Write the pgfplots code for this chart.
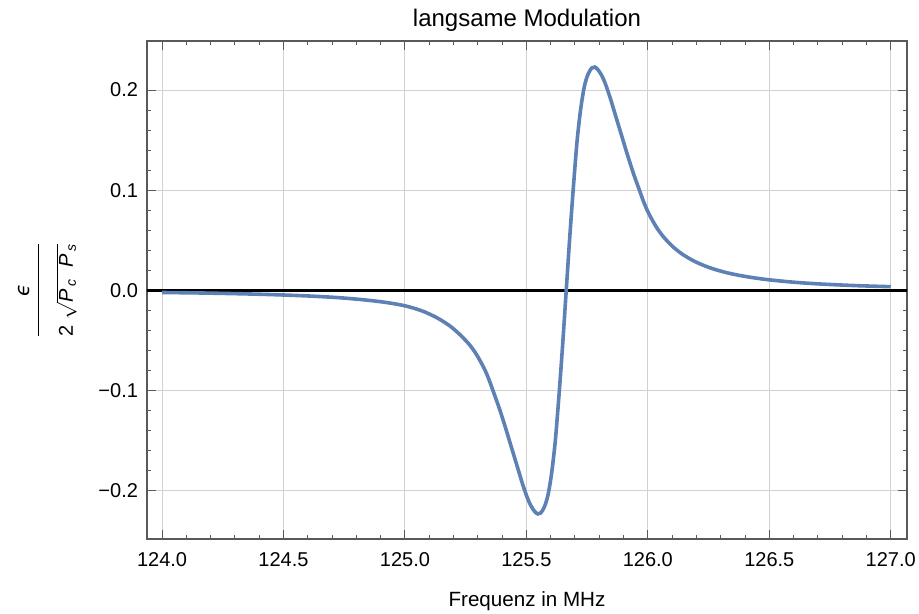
\documentclass[border=0pt]{standalone}
\usepackage{amsmath}
\usepackage{fontspec}
\setmainfont{Liberation Sans}
\newfontfamily\dejavu{DejaVu Sans}
\usepackage{pgfplots}
\pgfplotsset{compat=1.18}
\definecolor{mblue}{rgb}{0.368,0.507,0.710}
\definecolor{framec}{rgb}{0.35,0.35,0.35}
\begin{document}
\begin{tikzpicture}
\begin{axis}[
  at={(0,0)}, anchor=south west,
  scale only axis, width=380pt, height=249pt,
  xmin=123.938, xmax=127.067, ymin=-0.248, ymax=0.249,
  xtick={124,124.5,125,125.5,126,126.5,127},
  xticklabels={124.0,124.5,125.0,125.5,126.0,126.5,127.0},
  ytick={-0.2,-0.1,0,0.1,0.2},
  yticklabels={−0.2,−0.1,0.0,0.1,0.2},
  minor x tick num=4, minor y tick num=4,
  xtick pos=both, ytick pos=both,
  xticklabel pos=lower, yticklabel pos=left,
  tick align=inside,
  major tick length=4.35pt, minor tick length=2.2pt,
  every tick/.style={framec, line width=0.5pt},
  axis line style={framec, line width=0.8pt},
  grid=major,
  major grid style={black!18, line width=0.5pt},
  xticklabel style={anchor=base, yshift=-14pt},
  yticklabel style={anchor=east, xshift=-1pt},
  every axis title/.style={at={(axis description cs:0.5,1)}, anchor=base, yshift=7pt, font=\fontsize{12}{14}\selectfont},
  title={langsame Modulation},
  every axis x label/.style={at={(axis description cs:0.5,0)}, anchor=base, yshift=-33.8pt, font=\fontsize{10.3}{12}\selectfont},
  xlabel={Frequenz in MHz},
  every axis y label/.style={at={(axis description cs:0,0.5)}, xshift=-51.9pt, rotate=90, anchor=base},
  ylabel={$\displaystyle\frac{\text{\dejavu\itshape ϵ}}{\rule{0pt}{16pt}\text{2}\;\sqrt{\textit{P}_{\,\textit{c}}\;\;\textit{P}_{\,\textit{s}}}}$},
]
\addplot[black, line width=1.1pt] coordinates {(123.9,0) (127.1,0)};
\addplot[mblue, line width=1.8pt, smooth] coordinates {
(124.000,-0.0020) (124.164,-0.0025) (124.328,-0.0033) (124.464,-0.0042)
(124.604,-0.0055) (124.724,-0.0071) (124.834,-0.0094) (124.924,-0.0120)
(125.004,-0.0155) (125.074,-0.0207) (125.134,-0.0275) (125.184,-0.0352)
(125.224,-0.0435) (125.264,-0.0536) (125.294,-0.0637) (125.324,-0.0767)
(125.344,-0.0877) (125.364,-0.1010)
(125.389,-0.1180) (125.414,-0.1370) (125.439,-0.1570) (125.464,-0.1770)
(125.484,-0.1930) (125.504,-0.2070) (125.519,-0.2150) (125.534,-0.2205)
(125.547,-0.2230) (125.559,-0.2220) (125.574,-0.2160) (125.589,-0.2040)
(125.604,-0.1820) (125.619,-0.1500) (125.634,-0.1050) (125.649,-0.0550)
(125.664,0.0000)
(125.679,0.0550) (125.694,0.1050) (125.709,0.1500) (125.724,0.1820)
(125.739,0.2040) (125.754,0.2160) (125.769,0.2220) (125.781,0.2230)
(125.794,0.2205) (125.809,0.2150) (125.824,0.2070) (125.844,0.1930)
(125.864,0.1770) (125.889,0.1570) (125.914,0.1370) (125.939,0.1180)
(125.964,0.1010) (125.984,0.0877) (126.004,0.0767) (126.034,0.0637)
(126.064,0.0536) (126.104,0.0435) (126.144,0.0359) (126.194,0.0289)
(126.254,0.0228) (126.324,0.0178) (126.404,0.0139) (126.494,0.0108)
(126.604,0.0082) (126.724,0.0063) (126.864,0.0048) (127.000,0.0038)
};
\end{axis}
\pgfresetboundingbox
\path (-73.5pt,-37.5pt) rectangle (386pt,269.5pt);
\end{tikzpicture}
\end{document}
